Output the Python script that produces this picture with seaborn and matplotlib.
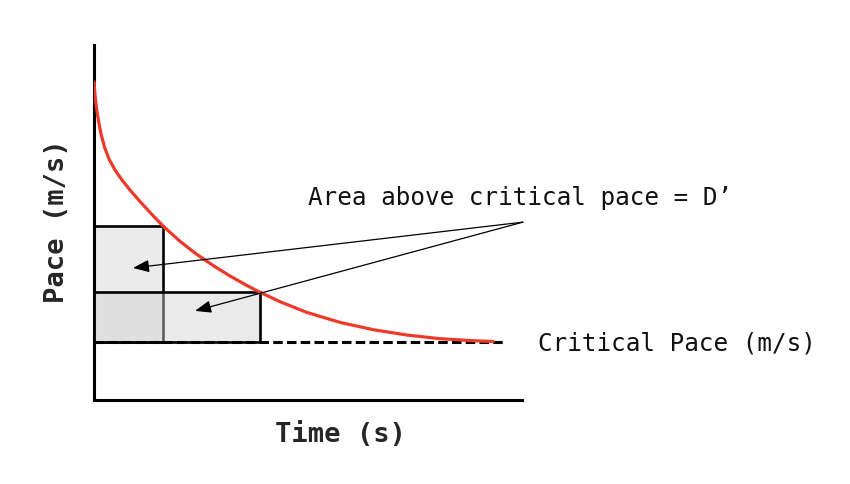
import matplotlib
matplotlib.use("Agg")
import matplotlib.pyplot as plt
import matplotlib.patches as mpatches
import seaborn as sns
import pandas as pd

# ---- data (arbitrary units) ----
time_vals = [0.000, 0.023, 0.058, 0.105, 0.164, 0.245, 0.350, 0.491, 0.654,
             0.841, 1.075, 1.343, 1.612, 2.009, 2.400, 2.787, 3.178, 3.568,
             3.879, 4.346, 4.970, 5.748, 6.526, 7.306, 8.084, 8.862, 9.329]
pace_vals = [8.958, 8.592, 8.225, 7.859, 7.493, 7.127, 6.789, 6.479, 6.197,
             5.915, 5.592, 5.239, 4.901, 4.470, 4.104, 3.786, 3.493, 3.228,
             3.034, 2.769, 2.468, 2.186, 1.980, 1.831, 1.727, 1.670, 1.648]
critical_pace = 1.63
critical_end = 9.6
rect_widths = [1.61, 3.88]
rect_tops = [4.90, 3.04]
arrow_targets = [(0.91, 3.72), (2.36, 2.51)]
arrow_source = (10.02, 5.01)
area_label = "Area above critical pace = D\u2019"
cp_label = "Critical Pace (m/s)"
x_label = "Time (s)"
y_label = "Pace (m/s)"

sns.set_style("white")
plt.rcParams["font.family"] = ["DejaVu Sans Mono", "DejaVu Sans"]

fig = plt.figure(figsize=(8.5, 4.84), dpi=100)
ax = fig.add_axes([94 / 850, 84 / 484, 428 / 850, 355 / 484])
ax.set_xlim(0, 10)
ax.set_ylim(0, 10)

# rectangles
r1 = mpatches.Rectangle((0, critical_pace), rect_widths[0], rect_tops[0] - critical_pace,
                        facecolor="#ebebeb", edgecolor="black", lw=1.9, zorder=2)
ax.add_patch(r1)
r2 = mpatches.Rectangle((0, critical_pace), rect_widths[1], rect_tops[1] - critical_pace,
                        facecolor=(210 / 255, 210 / 255, 210 / 255, 0.45),
                        edgecolor="black", lw=1.9, zorder=3)
ax.add_patch(r2)

# critical pace dashed line
ax.plot([0, critical_end], [critical_pace, critical_pace], color="black",
        lw=2.2, dashes=(3.1, 1.4), zorder=4, solid_capstyle="butt")

# curve
df = pd.DataFrame({"time": time_vals, "pace": pace_vals})
sns.lineplot(data=df, x="time", y="pace", ax=ax, color="#ee3a2a", lw=2.3,
             sort=False, zorder=5)

# arrows
for tx, ty in arrow_targets:
    ax.annotate("", xy=(tx, ty), xytext=arrow_source, xycoords="data",
                textcoords="data", annotation_clip=False,
                arrowprops=dict(arrowstyle="-|>,head_length=0.7,head_width=0.27",
                                color="black", lw=0.9, shrinkA=0, shrinkB=0,
                                mutation_scale=14),
                zorder=6)

ax.text(5.0, 5.69, area_label, fontsize=17.5, va="center", ha="left",
        color="#111111", clip_on=False)
ax.text(10.37, 1.6, cp_label, fontsize=17.5, va="center", ha="left",
        color="#111111", clip_on=False)

ax.set_xlabel(x_label, fontsize=19.5, fontweight="bold", va="center")
ax.set_ylabel(y_label, fontsize=19.5, fontweight="bold", va="center")
ax.xaxis.set_label_coords(0.577, -0.099)
ax.yaxis.set_label_coords(-0.086, 0.503)

ax.set_xticks([])
ax.set_yticks([])
for s in ["top", "right"]:
    ax.spines[s].set_visible(False)
for s in ["left", "bottom"]:
    ax.spines[s].set_color("black")
    ax.spines[s].set_linewidth(2.2)

fig.savefig("out.png", dpi=100)
